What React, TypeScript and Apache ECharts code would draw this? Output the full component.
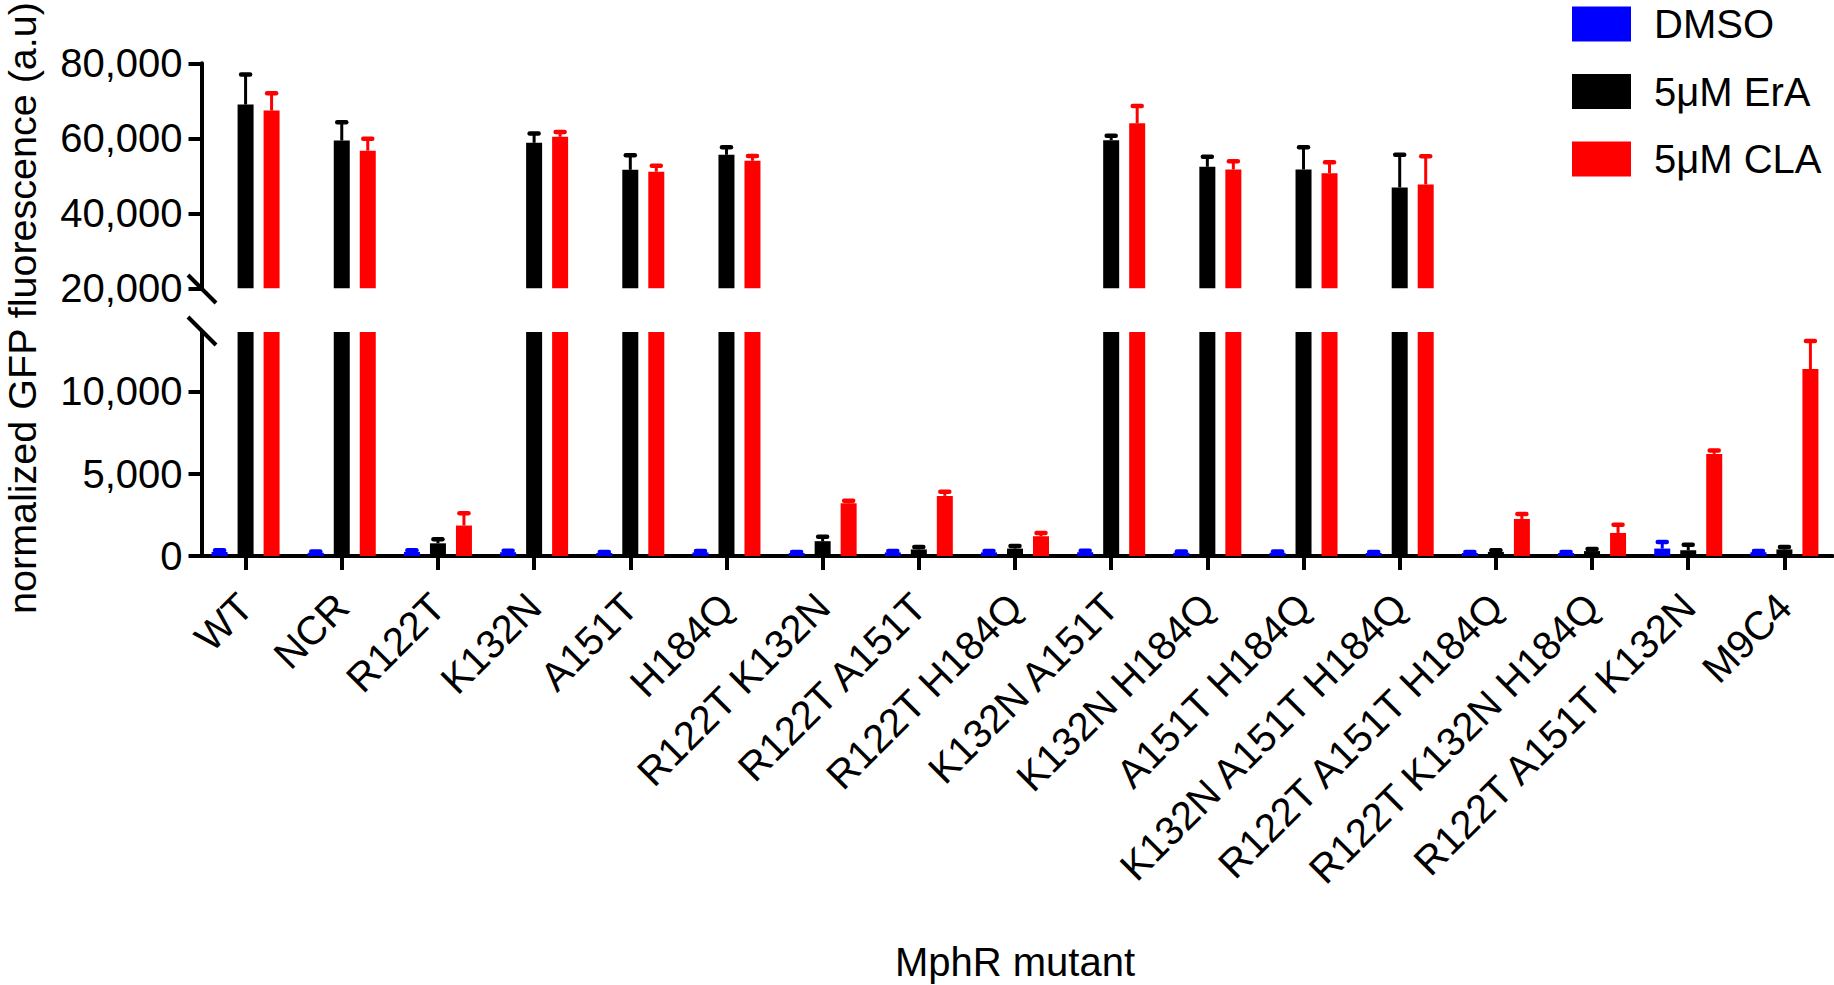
import React, { useEffect, useRef } from 'react';
import * as echarts from 'echarts';

const categories = [
  'WT', 'NCR', 'R122T', 'K132N', 'A151T', 'H184Q',
  'R122T K132N', 'R122T A151T', 'R122T H184Q', 'K132N A151T',
  'K132N H184Q', 'A151T H184Q', 'K132N A151T H184Q',
  'R122T A151T H184Q', 'R122T K132N H184Q', 'R122T A151T K132N', 'M9C4',
];

const dmsoMean = [250, 200, 250, 230, 180, 220, 180, 220, 220, 230, 200, 200, 180, 180, 180, 450, 230];
const dmsoSd = [100, 80, 100, 90, 70, 90, 70, 90, 90, 90, 80, 80, 70, 70, 70, 400, 80];

const eraMean = [69000, 59400, 770, 58800, 51600, 55600, 900, 400, 450, 59500, 52400, 51700, 46900, 250, 300, 350, 400];
const eraSd = [8000, 4900, 250, 2500, 3900, 2000, 270, 150, 150, 1150, 2700, 5900, 8700, 100, 120, 330, 150];

const claMean = [67400, 56700, 1850, 60400, 51100, 54000, 3200, 3650, 1200, 64000, 51700, 50700, 47700, 2250, 1400, 6200, 11350];
const claSd = [4600, 3200, 750, 1300, 1600, 1300, 150, 250, 200, 4600, 2200, 2900, 7500, 300, 500, 200, 1700];

const seriesNames = ['DMSO', '5μM ErA', '5μM CLA'];

const upperTicks = [20000, 40000, 60000, 80000];
const lowerTicks = [0, 5000, 10000];
const UPPER_MIN = 20000;
const UPPER_MAX = 80000;
const LOWER_MAX = 13600;

const FONT = '"Liberation Sans", Arial, Helvetica, sans-serif';

export default function App() {
  const ref = useRef<HTMLDivElement>(null);

  useEffect(() => {
    const chart = echarts.init(ref.current as HTMLDivElement, undefined, { renderer: 'svg' });

    const groups = [
      { name: seriesNames[0], mean: dmsoMean, sd: dmsoSd, color: '#0000ff', offset: -26 },
      { name: seriesNames[1], mean: eraMean, sd: eraSd, color: '#000000', offset: 0 },
      { name: seriesNames[2], mean: claMean, sd: claSd, color: '#ff0000', offset: 26 },
    ];

    const makeErr = (color: string, offset: number) => (params: any, api: any) => {
      const i = api.value(0);
      const top = api.value(1);
      const mean = api.value(2);
      const p0 = api.coord([i, mean]);
      const p1 = api.coord([i, top]);
      const x = p0[0] + offset;
      return {
        type: 'group',
        children: [
          { type: 'line', shape: { x1: x, y1: p0[1], x2: x, y2: p1[1] }, style: { stroke: color, lineWidth: 3 } },
          { type: 'line', shape: { x1: x - 4.5, y1: p1[1], x2: x + 4.5, y2: p1[1] }, style: { stroke: color, lineWidth: 4.5, lineCap: 'round' } },
        ],
      };
    };

    const series: any[] = [];
    groups.forEach((g) => {
      series.push({
        type: 'bar', name: g.name, xAxisIndex: 0, yAxisIndex: 0,
        data: g.mean.map((v) => (v >= UPPER_MIN ? v : null)),
        barWidth: 16, barGap: '62.5%', clip: true,
        itemStyle: { color: g.color },
      });
      series.push({
        type: 'bar', name: g.name, xAxisIndex: 1, yAxisIndex: 1,
        data: g.mean, barWidth: 16, barGap: '62.5%', clip: true,
        itemStyle: { color: g.color },
      });
    });
    groups.forEach((g) => {
      series.push({
        type: 'custom', name: g.name + ' err upper', xAxisIndex: 0, yAxisIndex: 0,
        renderItem: makeErr(g.color, g.offset), encode: { x: 0, y: [1, 2] },
        data: g.mean.map((m, i) => [i, m + g.sd[i], m]).filter((d) => d[2] >= UPPER_MIN),
        z: 3,
      });
      series.push({
        type: 'custom', name: g.name + ' err lower', xAxisIndex: 1, yAxisIndex: 1,
        renderItem: makeErr(g.color, g.offset), encode: { x: 0, y: [1, 2] },
        data: g.mean.map((m, i) => [i, m + g.sd[i], m]).filter((d) => d[1] < LOWER_MAX),
        z: 3,
      });
    });

    const fmt = (v: number) => v.toLocaleString('en-US');

    const option: any = {
      animation: false,
      backgroundColor: '#ffffff',
      textStyle: { fontFamily: FONT },
      grid: [
        { left: 197.5, right: 1.5, top: 63.3, height: 225, outerBoundsMode: 'none', containLabel: false },
        { left: 197.5, right: 1.5, top: 332, height: 224, outerBoundsMode: 'none', containLabel: false },
      ],
      legend: {
        orient: 'vertical', left: 1572, top: 4, padding: 0, itemWidth: 59, itemHeight: 35, itemGap: 27.5,
        icon: 'rect', selectedMode: false, data: seriesNames,
        textStyle: { fontSize: 40, color: '#000', fontFamily: FONT, padding: [0, 0, 0, 18] },
      },
      xAxis: [
        {
          type: 'category', gridIndex: 0, data: categories,
          axisLine: { show: false }, axisTick: { show: false }, axisLabel: { show: false },
        },
        {
          type: 'category', gridIndex: 1, data: categories,
          axisLine: { show: true, lineStyle: { color: '#000', width: 4 } },
          axisTick: { show: true, alignWithLabel: true, length: 14, lineStyle: { color: '#000', width: 4 } },
          axisLabel: { interval: 0, rotate: 45, fontSize: 40, color: '#000', margin: 44, fontFamily: FONT },
          name: 'MphR mutant', nameLocation: 'middle', nameGap: 386,
          nameTextStyle: { fontSize: 40, color: '#000', fontFamily: FONT },
        },
      ],
      yAxis: [
        {
          type: 'value', gridIndex: 0, min: UPPER_MIN, max: UPPER_MAX, interval: 20000, offset: -4,
          splitLine: { show: false },
          axisLine: { show: true, lineStyle: { color: '#000', width: 4 } },
          axisTick: { show: true, length: 13, lineStyle: { color: '#000', width: 4 }, customValues: upperTicks },
          axisLabel: { fontSize: 40, color: '#000', margin: 19, formatter: fmt, customValues: upperTicks, fontFamily: FONT },
        },
        {
          type: 'value', gridIndex: 1, min: 0, max: LOWER_MAX, interval: 5000, offset: -4,
          splitLine: { show: false },
          axisLine: { show: true, lineStyle: { color: '#000', width: 4 } },
          axisTick: { show: true, length: 13, lineStyle: { color: '#000', width: 4 }, customValues: lowerTicks },
          axisLabel: { fontSize: 40, color: '#000', margin: 19, formatter: fmt, customValues: lowerTicks, fontFamily: FONT },
        },
      ],
      graphic: [
        {
          type: 'text', x: 22, y: 308, rotation: Math.PI / 2,
          style: {
            text: 'normalized GFP fluorescence (a.u)', font: `39.5px ${FONT}`, fill: '#000',
            textAlign: 'center', textVerticalAlign: 'middle',
          },
        },
        { type: 'line', shape: { x1: 188, y1: 275, x2: 216, y2: 303 }, style: { stroke: '#000', lineWidth: 4 } },
        { type: 'line', shape: { x1: 188, y1: 317, x2: 216, y2: 345 }, style: { stroke: '#000', lineWidth: 4 } },
      ],
      series,
    };

    chart.setOption(option);
    return () => chart.dispose();
  }, []);

  return (
    <div
      ref={ref}
      style={{ position: 'fixed', left: 0, top: 0, width: 1834, height: 985, background: '#fff' }}
    />
  );
}
